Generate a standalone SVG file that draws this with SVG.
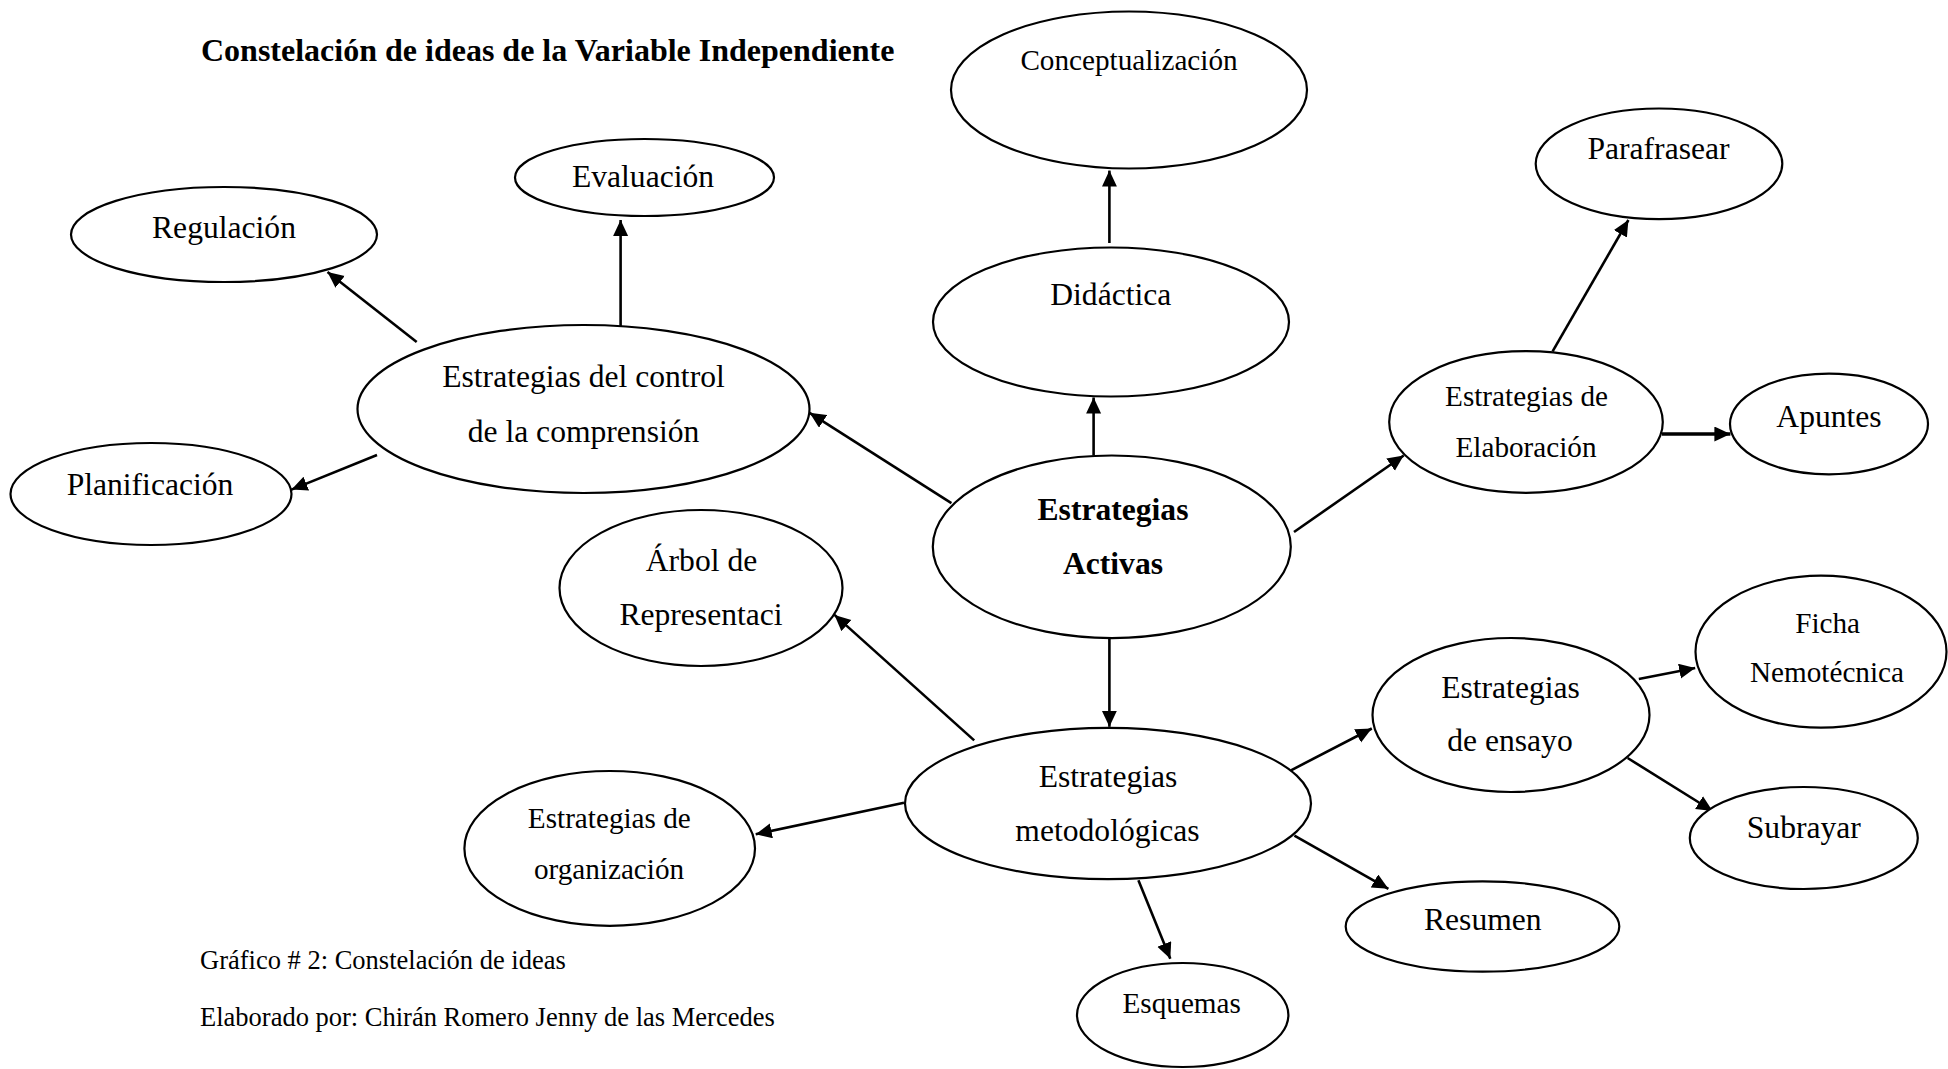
<svg xmlns="http://www.w3.org/2000/svg" width="1948" height="1069" viewBox="0 0 1948 1069">
<style>
.n ellipse{fill:#fff;stroke:#000;stroke-width:2.2}
text{font-family:"Liberation Serif","Times New Roman",serif;fill:#000;text-anchor:middle}
.t{font-size:31.6px}
.s{font-size:29.2px}
.b{font-size:31.6px;font-weight:bold}
.cap{font-size:26.5px;text-anchor:start}
.title{font-size:32px;font-weight:bold;text-anchor:start}
#connectors line{stroke:#000;stroke-width:2.6;marker-end:url(#ah)}
</style>
<defs>
<marker id="ah" markerUnits="userSpaceOnUse" markerWidth="18" markerHeight="16" refX="16" refY="7.5" orient="auto">
<path d="M0,0 L16,7.5 L0,15 z" fill="#000"/>
</marker>
</defs>
<rect width="1948" height="1069" fill="#fff"/>
<text class="title" x="201" y="61">Constelación de ideas de la Variable Independiente</text>

<g id="connectors">
<line x1="620.6" y1="326" x2="620.6" y2="220"/>
<line x1="416.7" y1="342" x2="327.5" y2="272"/>
<line x1="377" y1="455" x2="291.5" y2="489.6"/>
<line x1="951.4" y1="503.2" x2="809.6" y2="412.8"/>
<line x1="1093.6" y1="455.5" x2="1093.6" y2="397.5"/>
<line x1="1109.4" y1="243" x2="1109.4" y2="170.6"/>
<line x1="1294" y1="532" x2="1403.7" y2="455.5"/>
<line x1="1552.6" y1="351.4" x2="1628.4" y2="220"/>
<line x1="1662" y1="434" x2="1730.4" y2="434" style="stroke-width:3.4"/>
<line x1="1109.4" y1="638" x2="1109.4" y2="726.8"/>
<line x1="974.2" y1="740.4" x2="834.5" y2="614.9"/>
<line x1="904" y1="802.8" x2="755.7" y2="834.2"/>
<line x1="1138.4" y1="880.3" x2="1170.3" y2="958.8"/>
<line x1="1291" y1="770.3" x2="1371.8" y2="728.5"/>
<line x1="1294.4" y1="835.6" x2="1388.4" y2="888.8"/>
<line x1="1638.8" y1="679" x2="1695.2" y2="668"/>
<line x1="1627.6" y1="758" x2="1712.6" y2="811"/>
</g>

<g id="conceptualizacion" class="n"><ellipse cx="1129" cy="90" rx="178" ry="78.5"/><text class="s" x="1129" y="70">Conceptualización</text></g>
<g id="evaluacion" class="n"><ellipse cx="644.5" cy="177.5" rx="129.5" ry="38.5"/><text class="t" x="643" y="187">Evaluación</text></g>
<g id="regulacion" class="n"><ellipse cx="224" cy="234.5" rx="153" ry="47.5"/><text class="t" x="224" y="238">Regulación</text></g>
<g id="planificacion" class="n"><ellipse cx="151" cy="494" rx="140.5" ry="51"/><text class="t" x="150" y="495">Planificación</text></g>
<g id="control" class="n"><ellipse cx="583.5" cy="409" rx="226" ry="84"/><text class="t" x="583.5" y="386.6">Estrategias del control</text><text class="t" x="583.5" y="441.8">de la comprensión</text></g>
<g id="didactica" class="n"><ellipse cx="1111" cy="322" rx="178" ry="74.5"/><text class="t" x="1110.8" y="305">Didáctica</text></g>
<g id="activas" class="n"><ellipse cx="1111.8" cy="546.8" rx="179" ry="91.3"/><text class="b" x="1113" y="520">Estrategias</text><text class="b" x="1113" y="574.3">Activas</text></g>
<g id="parafrasear" class="n"><ellipse cx="1659" cy="163.8" rx="123.3" ry="55.3"/><text class="t" x="1658.5" y="158.6">Parafrasear</text></g>
<g id="elaboracion" class="n"><ellipse cx="1526" cy="422" rx="136.8" ry="70.8"/><text class="s" x="1526.5" y="406">Estrategias de</text><text class="s" x="1526" y="457">Elaboración</text></g>
<g id="apuntes" class="n"><ellipse cx="1829" cy="424" rx="99" ry="50.3"/><text class="t" x="1829" y="426.5">Apuntes</text></g>
<g id="arbol" class="n"><ellipse cx="701" cy="588" rx="141.5" ry="78"/><text class="t" x="701.5" y="571">Árbol de</text><text class="t" x="701" y="625">Representaci</text></g>
<g id="organizacion" class="n"><ellipse cx="609.7" cy="848.4" rx="145.3" ry="77.4"/><text class="s" x="609.3" y="828.4">Estrategias de</text><text class="s" x="609" y="879">organización</text></g>
<g id="metodologicas" class="n"><ellipse cx="1108" cy="803.5" rx="203" ry="75.7"/><text class="t" x="1108" y="786.5">Estrategias</text><text class="t" x="1107.5" y="841">metodológicas</text></g>
<g id="esquemas" class="n"><ellipse cx="1182.7" cy="1015" rx="105.7" ry="52"/><text class="s" x="1181.7" y="1013.4">Esquemas</text></g>
<g id="resumen" class="n"><ellipse cx="1482.5" cy="926.5" rx="136.8" ry="45.2"/><text class="t" x="1482.8" y="929.8">Resumen</text></g>
<g id="ensayo" class="n"><ellipse cx="1511" cy="715" rx="138.5" ry="77"/><text class="t" x="1510.5" y="697.8">Estrategias</text><text class="t" x="1510" y="750.6">de ensayo</text></g>
<g id="ficha" class="n"><ellipse cx="1821" cy="651.7" rx="125.5" ry="76"/><text class="s" x="1827.6" y="633">Ficha</text><text class="s" x="1827" y="682.4">Nemotécnica</text></g>
<g id="subrayar" class="n"><ellipse cx="1803.8" cy="838" rx="114" ry="51"/><text class="t" x="1803.8" y="837.7">Subrayar</text></g>

<text class="cap" x="200" y="969">Gráfico # 2: Constelación de ideas</text>
<text class="cap" x="200" y="1026">Elaborado por: Chirán Romero Jenny de las Mercedes</text>
</svg>
